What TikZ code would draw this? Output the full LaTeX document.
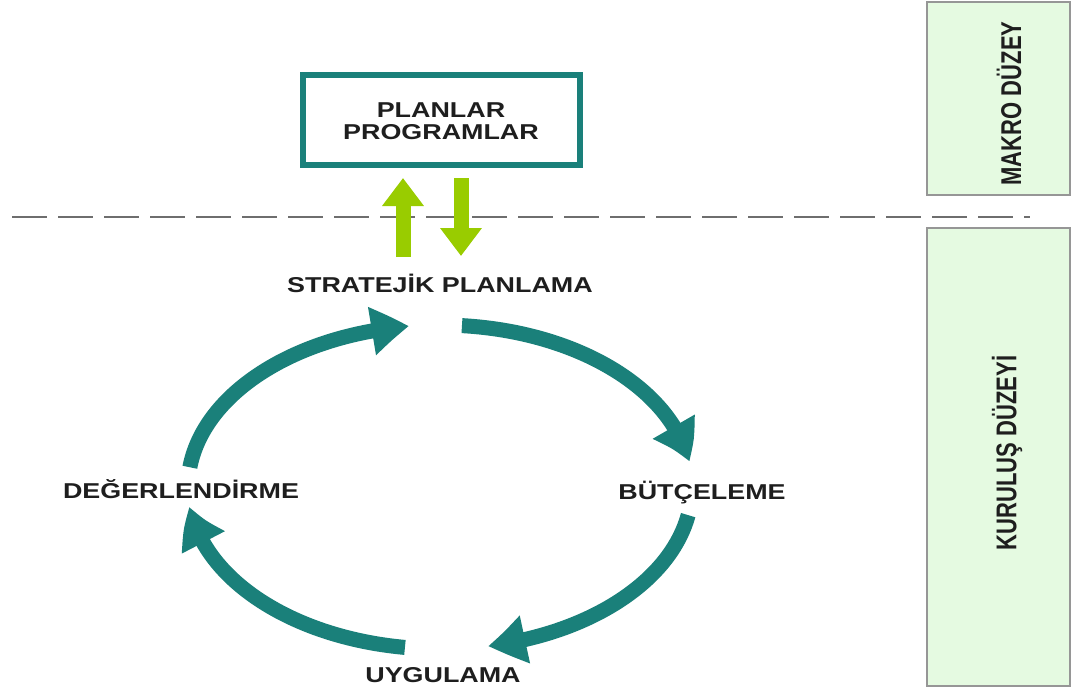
\documentclass[tikz,border=0pt]{standalone}
\usepackage{fontspec}
\setmainfont{Liberation Sans}
\newfontfamily\labfont[FakeStretch=1.25]{Liberation Sans}
\newfontfamily\sidefont{Liberation Sans}
\usetikzlibrary{arrows.meta,bending,calc}
\definecolor{teal1}{RGB}{26,128,122}
\definecolor{lime1}{RGB}{153,204,0}
\definecolor{panelfill}{RGB}{229,250,225}
\definecolor{panelline}{RGB}{150,150,150}
\definecolor{txt}{RGB}{30,30,30}
\definecolor{dashgray}{RGB}{110,110,110}
\begin{document}
\begin{tikzpicture}[x=1pt,y=-1pt,
  lab/.style={font=\labfont\bfseries\fontsize{21.5}{21.5}\selectfont, text=txt, inner sep=0pt, anchor=base},
  cyc/.style={line width=15pt, draw=teal1, -{Triangle[width=46pt,length=38pt,bend]}},
  garrow/.style={line width=15pt, draw=lime1, -{Triangle[width=40pt,length=28pt]}},
  panel/.style={fill=panelfill, draw=panelline, line width=1.5pt},
  sidetxt/.style={font=\sidefont\bfseries\fontsize{22}{22}\selectfont, text=txt, rotate=90, inner sep=0pt},
  boxstyle/.style={draw=teal1, line width=6pt}
]
\useasboundingbox (0,0) rectangle (1072,691);
\fill[white] (0,0) rectangle (1072,691);

% right panels
\draw[panel] (927,2) rectangle (1070,195);
\draw[panel] (927,228) rectangle (1070,686);
\node[sidetxt] (mk) at (1009,103.5) {\scalebox{1}[1.3]{MAKRO DÜZEY}};
\node[sidetxt] (kd) at (1007,453) {\scalebox{1}[1.3]{KURULUŞ DÜZEYİ}};

% dashed separator
\coordinate (dl) at (12,217);
\coordinate (dr) at (1030,217);
\draw[dashgray, line width=2.5pt, dash pattern=on 35pt off 11pt] (dl) -- (dr);

% planlar box
\draw[boxstyle] (303,75) rectangle (580,165);
\node[lab] (pl1) at (441,117) {PLANLAR};
\node[lab] (pl2) at (441,139) {PROGRAMLAR};

% green arrows
\coordinate (ua) at (403,257);
\coordinate (ub) at (403,178);
\coordinate (da) at (461,178);
\coordinate (db) at (461,256);
\draw[garrow] (ua) -- (ub);
\draw[garrow] (da) -- (db);

% labels
\node[lab] (sp) at (440,292) {STRATEJİK PLANLAMA};
\node[lab] (bt) at (702,499) {BÜTÇELEME};
\node[lab] (ug) at (443,682) {UYGULAMA};
\node[lab] (dg) at (181,498) {DEĞERLENDİRME};

% cycle arrows
\coordinate (C) at (440,487);
\coordinate (a1) at ($(C)+(85:252pt and 162pt)$);
\coordinate (a2) at ($(C)+(-10:252pt and 162pt)$);
\coordinate (a3) at ($(C)+(-98:252pt and 162pt)$);
\coordinate (a4) at ($(C)+(173:252pt and 162pt)$);
\draw[cyc] (a1) arc[start angle=85, end angle=9, x radius=252pt, y radius=162pt];
\draw[cyc] (a2) arc[start angle=-10, end angle=-79, x radius=252pt, y radius=162pt];
\draw[cyc] (a3) arc[start angle=-98, end angle=-173, x radius=252pt, y radius=162pt];
\draw[cyc] (a4) arc[start angle=173, end angle=97, x radius=252pt, y radius=162pt];
\end{tikzpicture}
\end{document}
